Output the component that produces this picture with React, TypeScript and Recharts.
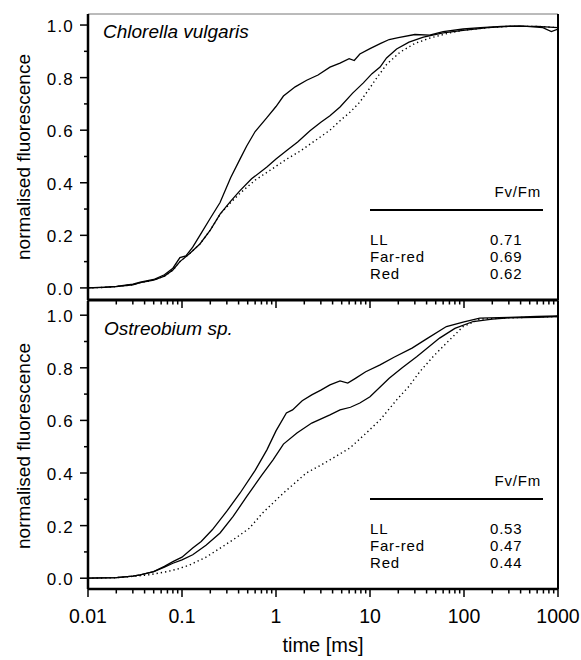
import React from "react";
import { LineChart, Line, XAxis, YAxis, ReferenceLine } from "recharts";

// time [ms] vs normalised fluorescence
const chlorellaLL: [number, number][] = [
  [0.01, 0], [0.015, 0.003], [0.02, 0.006], [0.03, 0.014], [0.036, 0.022], [0.05, 0.032],
  [0.065, 0.05], [0.08, 0.075], [0.095, 0.115], [0.11, 0.122], [0.13, 0.155], [0.155, 0.2],
  [0.2, 0.265], [0.254, 0.325], [0.33, 0.42], [0.414, 0.49], [0.488, 0.54], [0.6, 0.595],
  [0.8, 0.648], [1.0, 0.69], [1.2, 0.73], [1.6, 0.765], [2.12, 0.79], [2.8, 0.81],
  [3.75, 0.84], [4.8, 0.855], [6.0, 0.872], [6.8, 0.865], [7.8, 0.89], [10, 0.91],
  [13, 0.93], [16, 0.945], [20, 0.952], [30, 0.964], [43, 0.962], [60, 0.975],
  [98, 0.985], [150, 0.99], [250, 0.995], [400, 0.997], [690, 0.99], [850, 0.975], [1000, 0.985],
];

const chlorellaFarRed: [number, number][] = [
  [0.01, 0], [0.015, 0.002], [0.02, 0.005], [0.03, 0.012], [0.036, 0.02], [0.05, 0.03],
  [0.065, 0.045], [0.08, 0.068], [0.095, 0.1], [0.12, 0.13], [0.155, 0.167], [0.2, 0.22],
  [0.254, 0.281], [0.33, 0.33], [0.414, 0.37], [0.55, 0.415], [0.8, 0.46], [1.0, 0.49],
  [1.29, 0.522], [1.7, 0.555], [2.3, 0.598], [3.0, 0.63], [3.75, 0.655], [4.8, 0.688],
  [6.5, 0.74], [8.5, 0.78], [10.5, 0.815], [12.8, 0.84], [15, 0.875], [19.2, 0.909],
  [26, 0.935], [37, 0.954], [60, 0.97], [98, 0.98], [180, 0.99], [300, 0.995], [600, 0.995],
  [1000, 0.99],
];

const chlorellaRed: [number, number][] = [
  [0.01, 0], [0.015, 0.002], [0.02, 0.005], [0.03, 0.012], [0.036, 0.02], [0.05, 0.03],
  [0.065, 0.045], [0.08, 0.068], [0.095, 0.1], [0.12, 0.13], [0.155, 0.167], [0.2, 0.22],
  [0.254, 0.28], [0.33, 0.325], [0.414, 0.36], [0.6, 0.41], [0.93, 0.455], [1.3, 0.49],
  [1.8, 0.52], [2.6, 0.56], [3.75, 0.6], [4.8, 0.636], [6.2, 0.67], [7.8, 0.707],
  [9.5, 0.75], [11.6, 0.795], [15, 0.85], [20.9, 0.897], [30, 0.93], [43, 0.95],
  [70, 0.97], [98, 0.98], [180, 0.99], [300, 0.995], [600, 0.995], [1000, 0.99],
];

const ostreobiumLL: [number, number][] = [
  [0.01, 0], [0.02, 0.002], [0.03, 0.008], [0.036, 0.0125], [0.05, 0.025], [0.065, 0.045],
  [0.08, 0.063], [0.1, 0.08], [0.13, 0.115], [0.16, 0.14], [0.21, 0.184], [0.3, 0.255],
  [0.415, 0.324], [0.6, 0.41], [0.8, 0.488], [1.0, 0.56], [1.29, 0.628], [1.5, 0.64],
  [1.9, 0.675], [2.4, 0.697], [3.0, 0.715], [3.75, 0.735], [4.8, 0.75], [5.8, 0.742],
  [7, 0.76], [9, 0.785], [12.8, 0.811], [18, 0.84], [28, 0.875], [40, 0.91], [65, 0.957],
  [100, 0.975], [147, 0.989], [300, 0.992], [600, 0.995], [1000, 0.997],
];

const ostreobiumFarRed: [number, number][] = [
  [0.01, 0], [0.02, 0.002], [0.03, 0.008], [0.036, 0.0125], [0.05, 0.025], [0.065, 0.042],
  [0.08, 0.057], [0.1, 0.07], [0.13, 0.089], [0.18, 0.125], [0.254, 0.172], [0.35, 0.235],
  [0.487, 0.31], [0.7, 0.39], [0.93, 0.45], [1.2, 0.51], [1.67, 0.552], [2.4, 0.59],
  [3.75, 0.621], [4.8, 0.64], [6.2, 0.65], [7.8, 0.666], [10, 0.69], [16, 0.76],
  [22, 0.8], [31.6, 0.843], [55, 0.913], [80, 0.95], [125, 0.976], [200, 0.985],
  [300, 0.99], [600, 0.992], [1000, 0.995],
];

const ostreobiumRed: [number, number][] = [
  [0.01, 0], [0.02, 0.002], [0.03, 0.007], [0.045, 0.013], [0.069, 0.025], [0.09, 0.035],
  [0.12, 0.05], [0.18, 0.08], [0.27, 0.12], [0.38, 0.155], [0.52, 0.19], [0.72, 0.248],
  [1.2, 0.324], [2.1, 0.4], [3.0, 0.43], [3.75, 0.45], [6.1, 0.495], [9, 0.55],
  [12.8, 0.602], [19.2, 0.678], [26, 0.73], [34, 0.786], [47, 0.843], [65, 0.894],
  [98, 0.957], [147, 0.985], [300, 0.99], [600, 0.993], [1000, 0.995],
];

const xMajorTicks = [0.01, 0.1, 1, 10, 100, 1000];
const xMinorSteps = [2, 3, 4, 5, 6, 7, 8, 9];
const yTicks = [0, 0.1, 0.2, 0.3, 0.4, 0.5, 0.6, 0.7, 0.8, 0.9, 1.0];

const fvfmRows = ["LL", "Far-red", "Red"];
const chlorellaFvFm = ["0.71", "0.69", "0.62"];
const ostreobiumFvFm = ["0.53", "0.47", "0.44"];

const xTicks = [
  ...xMajorTicks,
  ...xMajorTicks.slice(0, -1).flatMap((d) => xMinorSteps.map((s) => +(d * s).toPrecision(3))),
].sort((a, b) => a - b);

const toRows = (arr: [number, number][]) => arr.map(([t, v]) => ({ t, v }));

const FONT = "'Liberation Sans', Arial, sans-serif";

function isMajor(v: number) {
  return xMajorTicks.some((m) => Math.abs(m - v) / m < 1e-6);
}

function XTick(props: any) {
  const { x, y, payload, showLabel } = props;
  const major = isMajor(payload.value);
  return (
    <g>
      <line x1={x} x2={x} y1={y} y2={y + (major ? 8 : 4.5)} stroke="#000" strokeWidth={1.5} />
      {showLabel && major && (
        <text x={x} y={y + 34} textAnchor="middle" fontSize={19.5} fontFamily={FONT} fill="#000">
          {String(payload.value)}
        </text>
      )}
    </g>
  );
}

function YTick(props: any) {
  const { x, y, payload } = props;
  const v = payload.value;
  const major = Math.round(v * 10) % 2 === 0;
  return (
    <g>
      <line x1={x - (major ? 8 : 4)} x2={x} y1={y} y2={y} stroke="#000" strokeWidth={1.5} />
      {major && (
        <text x={x - 14} y={y + 7} textAnchor="end" fontSize={17} letterSpacing={1.2} fontFamily={FONT} fill="#000">
          {v.toFixed(1)}
        </text>
      )}
    </g>
  );
}

function Panel({ ll, farRed, red, yDomain, top, height, xAxisHeight, marginTop, bottom, drawTop }: any) {
  return (
    <div style={{ position: "absolute", left: 0, top }}>
      <LineChart width={581} height={height} margin={{ top: marginTop, right: 23, bottom: 0, left: 0 }}>
        <XAxis
          dataKey="t"
          type="number"
          scale="log"
          domain={[0.01, 1000]}
          allowDataOverflow
          ticks={xTicks}
          interval={0}
          tickSize={0}
          tickMargin={0}
          tickLine={false}
          height={xAxisHeight}
          axisLine={{ stroke: "#000", strokeWidth: bottom ? 2.5 : 3 }}
          tick={(p: any) => <XTick {...p} showLabel={bottom} />}
          label={
            bottom
              ? { value: "time [ms]", position: "insideBottom", offset: 8, fontSize: 20, fontFamily: FONT, fill: "#000" }
              : undefined
          }
        />
        <YAxis
          type="number"
          domain={yDomain}
          allowDataOverflow
          ticks={yTicks}
          interval={0}
          width={88}
          tickSize={0}
          tickMargin={0}
          tickLine={false}
          axisLine={{ stroke: "#000", strokeWidth: 2.5 }}
          tick={(p: any) => <YTick {...p} />}
        />
        {drawTop && <ReferenceLine y={yDomain[1]} stroke="#777" strokeWidth={1} />}
        <ReferenceLine x={1000} stroke="#000" strokeWidth={2} />
        <Line data={toRows(ll)} dataKey="v" type="linear" stroke="#000" strokeWidth={1.3} dot={false} isAnimationActive={false} />
        <Line data={toRows(farRed)} dataKey="v" type="linear" stroke="#000" strokeWidth={1.3} dot={false} isAnimationActive={false} />
        <Line
          data={toRows(red)}
          dataKey="v"
          type="linear"
          stroke="#000"
          strokeWidth={1.4}
          strokeDasharray="1.3 3"
          dot={false}
          isAnimationActive={false}
        />
      </LineChart>
    </div>
  );
}

function FvFmTable({ values, y0 }: { values: string[]; y0: number }) {
  return (
    <g fontFamily={FONT} fill="#000">
      <text x={541} y={y0} textAnchor="end" fontSize={15} letterSpacing={0.8}>Fv/Fm</text>
      <line x1={370} x2={543} y1={y0 + 13} y2={y0 + 13} stroke="#000" strokeWidth={2} />
      {fvfmRows.map((r, i) => (
        <g key={r}>
          <text x={370} y={y0 + 48 + i * 17} fontSize={15} letterSpacing={0.8}>{r}</text>
          <text x={490} y={y0 + 48 + i * 17} fontSize={15} letterSpacing={0.8}>{values[i]}</text>
        </g>
      ))}
    </g>
  );
}

function YTitle({ cy }: { cy: number }) {
  return (
    <text
      transform={`translate(30, ${cy}) rotate(-90)`}
      textAnchor="middle"
      fontSize={19}
      fontFamily={FONT}
      fill="#000"
    >
      normalised fluorescence
    </text>
  );
}

export default function App() {
  return (
    <div style={{ position: "absolute", left: 0, top: 0, width: 581, height: 660, background: "#fff", fontFamily: FONT }}>
      <Panel
        ll={chlorellaLL}
        farRed={chlorellaFarRed}
        red={chlorellaRed}
        yDomain={[-0.046, 1.042]}
        top={0}
        height={310}
        xAxisHeight={10}
        marginTop={14}
        bottom={false}
        drawTop
      />
      <Panel
        ll={ostreobiumLL}
        farRed={ostreobiumFarRed}
        red={ostreobiumRed}
        yDomain={[-0.041, 1.054]}
        top={300}
        height={360}
        xAxisHeight={71}
        marginTop={1}
        bottom
        drawTop={false}
      />
      <svg width={581} height={660} style={{ position: "absolute", left: 0, top: 0, pointerEvents: "none" }}>
        <YTitle cy={157} />
        <YTitle cy={446} />
        <text x={103} y={38} fontSize={19} fontStyle="italic" fontFamily={FONT} fill="#000">Chlorella vulgaris</text>
        <text x={104} y={335} fontSize={19} fontStyle="italic" fontFamily={FONT} fill="#000">Ostreobium sp.</text>
        <FvFmTable values={chlorellaFvFm} y0={197} />
        <FvFmTable values={ostreobiumFvFm} y0={486} />
      </svg>
    </div>
  );
}
